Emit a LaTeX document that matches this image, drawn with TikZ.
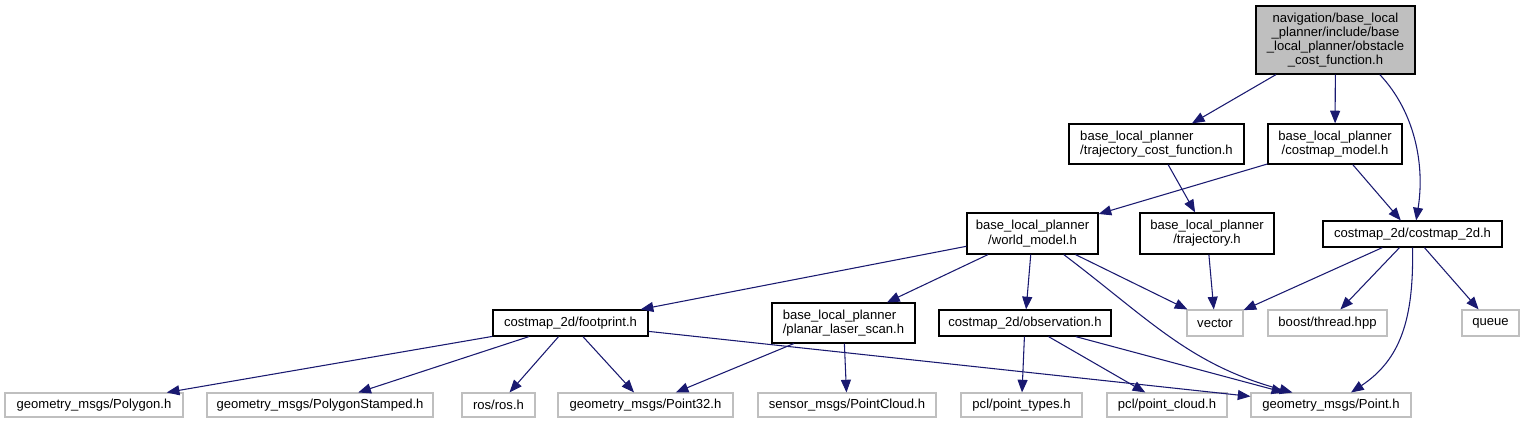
\documentclass[tikz,border=0pt]{standalone}
\usepackage{fontspec}
\setmainfont{Liberation Sans}
\usetikzlibrary{arrows.meta}

\definecolor{edgeblue}{HTML}{191970}
\definecolor{extgray}{HTML}{BFBFBF}

\begin{document}
\begin{tikzpicture}[x=0.75pt,y=-0.75pt,
  file/.style={draw=black,line width=0.9pt,inner sep=0pt,align=center,
    font=\fontsize{9.8}{10.6}\selectfont},
  sysfile/.style={file,draw=extgray,line width=0.8pt},
  dep/.style={edgeblue,line width=0.8pt,-{Triangle[length=9.5pt,width=7.5pt]}}]
  \useasboundingbox (0,0) rectangle (1525,424);

  % header being documented
  \node[file,fill=extgray,minimum width=119.25pt,minimum height=51pt] (root) at (1335.5,40)
    {navigation/base\_local\\\_planner/include/base\\\_local\_planner/obstacle\\\_cost\_function.h};

  % project headers
  \node[file,align=left,minimum width=131.25pt,minimum height=30pt] (tcf) at (1156.5,144)
    {base\_local\_planner\\/trajectory\_cost\_function.h};
  \node[file,minimum width=100.5pt,minimum height=30pt] (cmm) at (1335,144)
    {base\_local\_planner\\/costmap\_model.h};
  \node[file,minimum width=98.25pt,minimum height=30.75pt] (wm) at (1032.5,233.5)
    {base\_local\_planner\\/world\_model.h};
  \node[file,minimum width=100.5pt,minimum height=30.75pt] (traj) at (1207,233.5)
    {base\_local\_planner\\/trajectory.h};
  \node[file,minimum width=134.25pt,minimum height=19.5pt] (c2d) at (1412.5,234)
    {costmap\_2d/costmap\_2d.h};
  \node[file,minimum width=116.25pt,minimum height=19.5pt] (fp) at (570.5,323)
    {costmap\_2d/footprint.h};
  \node[file,align=left,minimum width=107.25pt,minimum height=30pt] (pls) at (843.5,323)
    {base\_local\_planner\\/planar\_laser\_scan.h};
  \node[file,minimum width=129pt,minimum height=19.5pt] (obs) at (1025,323)
    {costmap\_2d/observation.h};

  % system / external headers
  \node[sysfile,minimum width=42pt,minimum height=19.5pt] (vec) at (1215,323) {vector};
  \node[sysfile,minimum width=89.25pt,minimum height=19.5pt] (boost) at (1327.5,323) {boost/thread.hpp};
  \node[sysfile,minimum width=42.75pt,minimum height=19.5pt] (queue) at (1490.5,323) {queue};
  \node[sysfile,minimum width=133.5pt,minimum height=18pt] (poly) at (94,405) {geometry\_msgs/Polygon.h};
  \node[sysfile,minimum width=169.5pt,minimum height=18pt] (polys) at (320,405) {geometry\_msgs/PolygonStamped.h};
  \node[sysfile,minimum width=54.75pt,minimum height=18pt] (ros) at (498.5,405) {ros/ros.h};
  \node[sysfile,minimum width=131.25pt,minimum height=18pt] (p32) at (645.5,405) {geometry\_msgs/Point32.h};
  \node[sysfile,minimum width=133.5pt,minimum height=18pt] (pc) at (847,405) {sensor\_msgs/PointCloud.h};
  \node[sysfile,minimum width=90.75pt,minimum height=18pt] (pt) at (1021.5,405) {pcl/point\_types.h};
  \node[sysfile,minimum width=90pt,minimum height=18pt] (pcl) at (1167,405) {pcl/point\_cloud.h};
  \node[sysfile,minimum width=120pt,minimum height=18pt] (pnt) at (1331,405) {geometry\_msgs/Point.h};

  % include edges
  \draw[dep] (root) -- (tcf);
  \draw[dep] (root) -- (cmm);
  \draw[dep] (root.-38) .. controls (1415,112) and (1425,165) .. (c2d.75);
  \draw[dep] (tcf) -- (traj);
  \draw[dep] (cmm) -- (wm);
  \draw[dep] (cmm) -- (c2d);
  \draw[dep] (wm) -- (fp);
  \draw[dep] (wm) -- (pls);
  \draw[dep] (wm) -- (obs);
  \draw[dep] (wm) -- (vec);
  \draw[dep] (wm.-34) .. controls (1150,320) and (1190,365) .. (pnt.162);
  \draw[dep] (traj) -- (vec);
  \draw[dep] (c2d) -- (vec);
  \draw[dep] (c2d) -- (boost);
  \draw[dep] (c2d) -- (queue);
  \draw[dep] (c2d.south) .. controls (1414,320) and (1400,360) .. (pnt.32);
  \draw[dep] (fp) -- (poly);
  \draw[dep] (fp) -- (polys);
  \draw[dep] (fp) -- (ros);
  \draw[dep] (fp) -- (p32);
  \draw[dep] (fp) -- (pnt);
  \draw[dep] (pls) -- (p32);
  \draw[dep] (pls) -- (pc);
  \draw[dep] (obs) -- (pt);
  \draw[dep] (obs) -- (pcl);
  \draw[dep] (obs) -- (pnt);
\end{tikzpicture}
\end{document}
